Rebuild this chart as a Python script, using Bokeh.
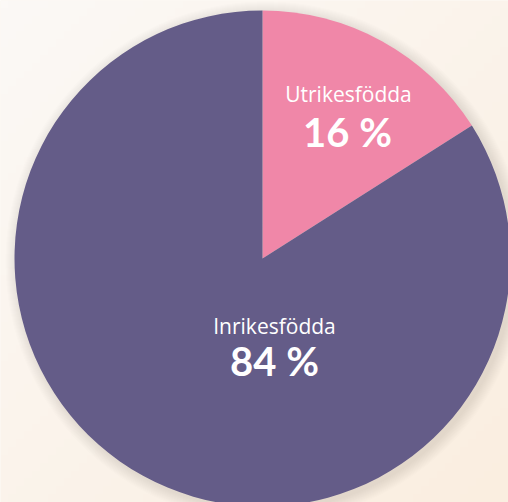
import math
import numpy as np
from bokeh.plotting import figure
from bokeh.models import ColumnDataSource
from bokeh.core.properties import value
from bokeh.embed import file_html
from bokeh.resources import INLINE

# ---- data ----
categories = ["Utrikesfödda", "Inrikesfödda"]
shares = [16, 84]
colors = ["#f087a8", "#645c88"]
pct_labels = ["16 %", "84 %"]

W, H = 508, 502
p = figure(width=W, height=H, x_range=(0, W), y_range=(0, H),
           output_backend="svg", toolbar_location=None, min_border=0)
p.axis.visible = False
p.grid.visible = False
p.outline_line_color = None
p.background_fill_color = "#fbf3ea"
p.border_fill_color = "#fbf3ea"

# background gradient
n = 64
gy, gx = np.mgrid[0:n, 0:n] / (n - 1)
t = (gx + (1 - gy)) / 2.0
c0 = np.array([252, 249, 246])
c1 = np.array([250, 238, 224])
img = np.zeros((n, n), dtype=np.uint32)
view = img.view(dtype=np.uint8).reshape((n, n, 4))
for k in range(3):
    view[:, :, k] = (c0[k] + (c1[k] - c0[k]) * t).astype(np.uint8)
view[:, :, 3] = 255
p.image_rgba(image=[img], x=0, y=0, dw=W, dh=H)

cx, cy, R = 262, 244, 248

# soft shadow
for k in range(1, 13):
    p.circle(x=cx + 3, y=cy - 3, radius=R + k, fill_color="#7a6048",
             fill_alpha=0.011, line_color=None)

# wedges
total = sum(shares)
starts, ends = [], []
a = math.pi / 2
for s in shares:
    starts.append(a)
    a -= 2 * math.pi * s / total
    ends.append(a)
src = ColumnDataSource(dict(start=starts, end=ends, color=colors))
p.wedge(x=cx, y=cy, radius=R, start_angle="start", end_angle="end",
        direction="clock", fill_color="color", line_color=None, source=src)

# labels
name_pos = [(cx + 86, cy + 165), (cx + 12, cy - 67)]
pct_pos = [(cx + 85, cy + 127), (cx + 12, cy - 102)]
p.text(x=[q[0] for q in name_pos], y=[q[1] for q in name_pos], text=categories,
       text_font=value("Open Sans"), text_font_size="21px", text_color="white",
       text_align="center", text_baseline="alphabetic")
p.text(x=[q[0] for q in pct_pos], y=[q[1] for q in pct_pos], text=pct_labels,
       text_font=value("Lato"), text_font_style="bold", text_font_size="40px",
       text_color="white", text_align="center", text_baseline="alphabetic")

html = file_html(p, INLINE)
open("out.html", "w").write(html)
